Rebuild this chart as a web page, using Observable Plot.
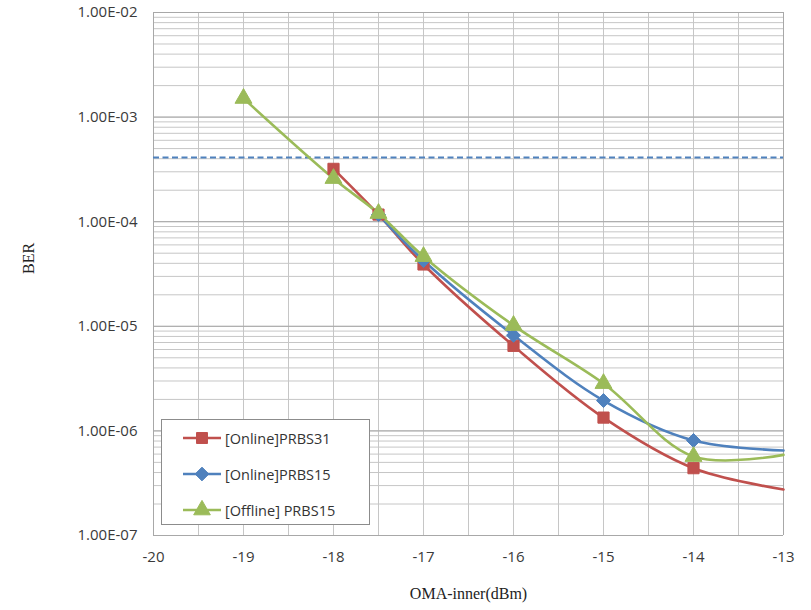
<!DOCTYPE html>
<html>
<head>
<meta charset="utf-8">
<script src="https://cdn.jsdelivr.net/npm/d3@7"></script>
<script src="https://cdn.jsdelivr.net/npm/@observablehq/plot@0.6"></script>
<style>
  html, body { margin: 0; padding: 0; background: #fff; }
  #wrap { position: relative; width: 811px; height: 610px; }
  #legend {
    position: absolute; left: 161px; top: 419px; width: 209px; height: 106px;
    border: 1px solid #8c8c8c; background: #fff; box-sizing: border-box;
    font-family: "Open Sans", sans-serif; font-size: 14.5px; color: #333;
  }
  .item { position: absolute; left: 20px; display: flex; align-items: center; height: 20px; }
  .item svg { margin-right: 3px; }
</style>
</head>
<body>
<div id="wrap"></div>
<script>
// ---- data ----
const seriesNames = ["[Online]PRBS31", "[Online]PRBS15", "[Offline] PRBS15"];
const seriesColors = ["#c0504d", "#4f81bd", "#9bbb59"];
const seriesSymbols = ["square", "diamond2", "triangle"];

const xPRBS31 = [-18, -17.5, -17, -16, -15, -14, -13];
const berPRBS31 = [3.2e-4, 1.17e-4, 3.9e-5, 6.5e-6, 1.34e-6, 4.4e-7, 2.75e-7];

const xPRBS15 = [-17.5, -17, -16, -15, -14, -13];
const berPRBS15 = [1.17e-4, 4.25e-5, 8.2e-6, 1.95e-6, 8.1e-7, 6.5e-7];

const xOffline = [-19, -18, -17.5, -17, -16, -15, -14, -13];
const berOffline = [1.51e-3, 2.59e-4, 1.2e-4, 4.65e-5, 1.02e-5, 2.84e-6, 5.7e-7, 5.9e-7];

const thresholdBER = 4.1e-4;

const xTicks = [-20, -19, -18, -17, -16, -15, -14, -13];
const xTickLabels = ["-20", "-19", "-18", "-17", "-16", "-15", "-14", "-13"];
const yTicks = [1e-2, 1e-3, 1e-4, 1e-5, 1e-6, 1e-7];
const yTickLabels = ["1.00E-02", "1.00E-03", "1.00E-04", "1.00E-05", "1.00E-06", "1.00E-07"];

// ---- build tables ----
const seriesX = [xPRBS31, xPRBS15, xOffline];
const seriesY = [berPRBS31, berPRBS15, berOffline];
const rows = [];
seriesNames.forEach((name, i) => {
  seriesX[i].forEach((x, j) => rows.push({series: name, x, ber: seriesY[i][j], last: j === seriesX[i].length - 1}));
});
const markerRows = rows.filter(d => !d.last);

// grid values
const minorY = [];
for (let e = -7; e < -2; e++) for (let m = 1; m <= 9; m++) minorY.push(m * Math.pow(10, e));
minorY.push(1e-2);
const gridX = d3.range(-20, -12.99, 0.5);

const yLabelOf = new Map(yTicks.map((t, i) => [t, yTickLabels[i]]));
const xLabelOf = new Map(xTicks.map((t, i) => [t, xTickLabels[i]]));

const chart = Plot.plot({
  width: 811,
  height: 610,
  marginLeft: 153,
  marginRight: 28,
  marginTop: 12,
  marginBottom: 75,
  style: {fontFamily: "'Open Sans', sans-serif", fontSize: "15px", color: "#3a3a3a", background: "#fff"},
  x: {domain: [-20, -13], ticks: xTicks, tickSize: 0, tickPadding: 16,
      tickFormat: d => xLabelOf.get(d) ?? "", label: null},
  y: {type: "log", domain: [1e-7, 1e-2], ticks: yTicks, tickSize: 0, tickPadding: 16,
      tickFormat: d => yLabelOf.get(d) ?? "", label: null},
  color: {domain: seriesNames, range: seriesColors},
  symbol: {domain: seriesNames, range: seriesSymbols},
  marks: [
    Plot.ruleY(minorY, {stroke: "#c6c6c6", strokeWidth: 1}),
    Plot.ruleX(gridX, {stroke: "#c6c6c6", strokeWidth: 1}),
    Plot.ruleY(yTicks, {stroke: "#a8a8a8", strokeWidth: 1}),
    Plot.ruleX([-20, -13], {stroke: "#a8a8a8", strokeWidth: 1}),
    Plot.ruleY([thresholdBER], {x1: -20, x2: -13, stroke: "#4f81bd", strokeWidth: 2, strokeDasharray: "6,3.5"}),
    Plot.line(rows, {x: "x", y: "ber", z: "series", stroke: "series", strokeWidth: 2.6, curve: "catmull-rom"}),
    Plot.dot(markerRows, {x: "x", y: "ber", fill: "series", stroke: "series", symbol: "series", r: 6.3, strokeWidth: 1}),
    Plot.text(["BER"], {frameAnchor: "left", dx: -125, rotate: -90, fontFamily: "'Liberation Serif', serif", fontSize: 16, fill: "#222"}),
    Plot.text(["OMA-inner(dBm)"], {frameAnchor: "bottom", dy: 63, fontFamily: "'Liberation Serif', serif", fontSize: 16, fill: "#222"})
  ]
});

const wrap = document.getElementById("wrap");
wrap.appendChild(chart);

// legend overlay
const legend = document.createElement("div");
legend.id = "legend";
const symPaths = {
  square: d3.symbol(d3.symbolSquare, 120)(),
  diamond2: d3.symbol(d3.symbolDiamond2, 120)(),
  triangle: d3.symbol(d3.symbolTriangle, 120)()
};
seriesNames.forEach((name, i) => {
  const item = document.createElement("div");
  item.className = "item";
  item.style.top = (8 + i * 36) + "px";
  item.innerHTML = `<svg width="40" height="20"><line x1="1" x2="39" y1="10" y2="10" stroke="${seriesColors[i]}" stroke-width="2.6"/>` +
    `<path d="${symPaths[seriesSymbols[i]]}" transform="translate(20,10)" fill="${seriesColors[i]}" stroke="${seriesColors[i]}"/></svg>` +
    `<span>${name}</span>`;
  legend.appendChild(item);
});
wrap.appendChild(legend);
</script>
</body>
</html>
